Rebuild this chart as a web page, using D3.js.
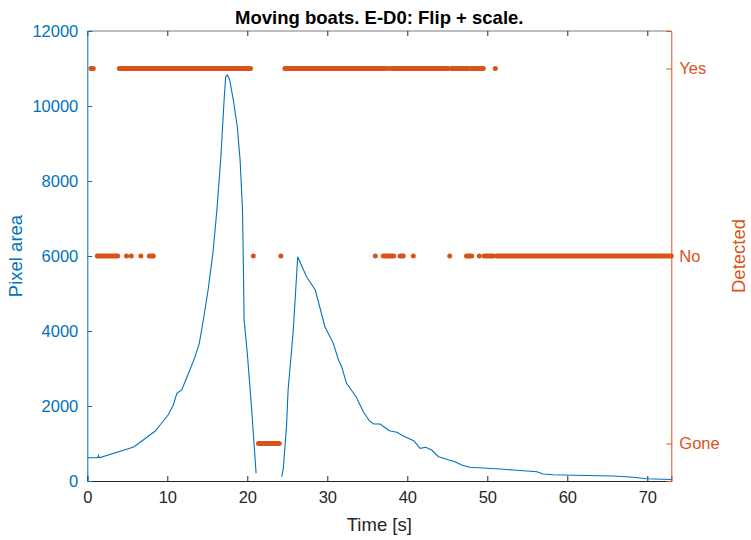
<!DOCTYPE html>
<html>
<head>
<meta charset="utf-8">
<script src="https://cdn.jsdelivr.net/npm/d3@7"></script>
<style>
  body { margin: 0; background: #fff; }
  svg { font-family: "Liberation Sans", Arial, Helvetica, sans-serif; }
</style>
</head>
<body>
<div id="chart"></div>
<script>
// pixel area over time (null = object gone, no value)
const timeSec = [0, 1.3, 1.4, 1.5, 5.8, 8.5, 9.1, 10.1, 10.75, 11.2, 11.8, 12.4, 13.4, 14.0, 14.5, 15.1,
  15.7, 16.2, 16.7, 17.1, 17.3, 17.5, 17.8, 18.25, 18.75, 19.1, 19.4, 19.5, 19.6, 20.0, 20.55, 21.1,
  22.7, 24.3, 24.5, 24.9, 25.1, 25.75, 26.3, 27.4, 28.5, 29.7, 30.75, 31.4, 31.8, 32.4, 33.6, 34.5,
  35.25, 35.8, 36.6, 37.75, 38.7, 39.5, 40.8, 41.6, 42.3, 43.05, 43.9, 44.9, 45.95, 46.8, 47.8, 49.5,
  51.6, 53.25, 56.2, 57.0, 58.25, 60.75, 65.75, 68.25, 69.9, 72.0, 73];
const pixelArea = [620, 620, 680, 620, 907, 1333, 1493, 1760, 2027, 2339, 2427, 2738, 3271, 3671, 4293, 5093,
  6072, 7227, 8648, 10160, 10781, 10827, 10693, 10160, 9448, 8560, 7227, 5893, 4293, 3405, 1893, 205,
  null, 115, 338, 1448, 2427, 4027, 5981, 5448, 5093, 4115, 3671, 3227, 3049, 2605, 2248, 1848,
  1608, 1520, 1520, 1341, 1298, 1200, 1075, 872, 898, 827, 648, 578, 515, 427, 365, 347,
  320, 293, 248, 187, 168, 152, 133, 98, 61, 45, 40];

// detection state runs: [start, end] in seconds
const yesRuns = [[0.45, 0.75], [4.0, 20.4], [24.7, 37.3], [37.65, 37.65], [38.0, 45.1], [45.5, 47.6],
  [47.95, 48.6], [48.9, 49.5], [51.0, 51.0]];
const noRuns = [[1.25, 3.8], [4.9, 4.9], [5.5, 5.5], [6.7, 6.7], [7.75, 8.25], [20.75, 20.75], [24.2, 24.2],
  [36.0, 36.0], [37.0, 38.3], [39.1, 39.5], [40.75, 40.75], [45.3, 45.3], [47.4, 48.05], [49.0, 49.0],
  [49.6, 50.8], [51.2, 73]];
const goneRuns = [[21.4, 24.0]];

const stateNames = ['Gone', 'No', 'Yes'];
const xTicks = [0, 10, 20, 30, 40, 50, 60, 70];
const yTicks = [0, 2000, 4000, 6000, 8000, 10000, 12000];

const width = 751, height = 540;
const margin = { top: 31, right: 79.7, bottom: 59, left: 87.3 };
const blue = '#0072BD', orange = '#D95319', dark = '#262626';

const svg = d3.select('#chart').append('svg')
  .attr('width', width)
  .attr('height', height);

const x = d3.scaleLinear().domain([0, 73]).range([margin.left, width - margin.right]);
const y = d3.scaleLinear().domain([0, 12000]).range([height - margin.bottom, margin.top]);
const y2 = d3.scaleLinear().domain([-0.2, 2.2]).range([height - margin.bottom, margin.top]);

// top border
svg.append('line')
  .attr('x1', x(0)).attr('x2', x(73))
  .attr('y1', margin.top).attr('y2', margin.top)
  .attr('stroke', dark).attr('stroke-opacity', 0.6).attr('stroke-width', 1);

// top ticks (inward)
svg.append('g')
  .attr('transform', `translate(0,${margin.top})`)
  .call(d3.axisTop(x).tickValues(xTicks).tickSize(-5).tickFormat(''))
  .call(g => g.select('.domain').remove())
  .call(g => g.selectAll('line').attr('stroke', dark));

// bottom axis
svg.append('g')
  .attr('transform', `translate(0,${height - margin.bottom})`)
  .call(d3.axisBottom(x).tickValues(xTicks).tickSize(-5).tickPadding(10))
  .call(g => g.select('.domain').attr('stroke', dark))
  .call(g => g.selectAll('line').attr('stroke', dark))
  .call(g => g.selectAll('text').attr('fill', dark).attr('font-size', 16.5).attr('font-family', null));

// left axis
svg.append('g')
  .attr('transform', `translate(${margin.left},0)`)
  .call(d3.axisLeft(y).tickValues(yTicks).tickSize(-5).tickPadding(9).tickFormat(d3.format('d')))
  .call(g => g.select('.domain').attr('stroke', blue))
  .call(g => g.selectAll('line').attr('stroke', blue))
  .call(g => g.selectAll('text').attr('fill', blue).attr('font-size', 16.5).attr('font-family', null));

// right axis
svg.append('g')
  .attr('transform', `translate(${width - margin.right},0)`)
  .call(d3.axisRight(y2).tickValues([0, 1, 2]).tickSize(-5).tickPadding(8).tickFormat(d => stateNames[d]))
  .call(g => g.select('.domain').attr('stroke', orange))
  .call(g => g.selectAll('line').attr('stroke', orange))
  .call(g => g.selectAll('text').attr('fill', orange).attr('font-size', 16.5).attr('font-family', null));

// pixel area line
const line = d3.line()
  .defined(d => d[1] !== null)
  .x(d => x(d[0]))
  .y(d => y(d[1]));

svg.append('path')
  .datum(timeSec.map((t, i) => [t, pixelArea[i]]))
  .attr('fill', 'none')
  .attr('stroke', blue)
  .attr('stroke-width', 1.1)
  .attr('d', line);

// detection markers, drawn as runs of dots
const runs = [].concat(
  yesRuns.map(r => ({ r, s: 2 })),
  noRuns.map(r => ({ r, s: 1 })),
  goneRuns.map(r => ({ r, s: 0 }))
);

svg.append('g').selectAll('line')
  .data(runs)
  .enter().append('line')
  .attr('x1', d => x(d.r[0]))
  .attr('x2', d => x(d.r[1]))
  .attr('y1', d => y2(d.s))
  .attr('y2', d => y2(d.s))
  .attr('stroke', orange)
  .attr('stroke-width', 5)
  .attr('stroke-linecap', 'round');

// title & labels
svg.append('text')
  .attr('x', (x(0) + x(73)) / 2)
  .attr('y', 24)
  .attr('text-anchor', 'middle')
  .attr('font-weight', 'bold')
  .attr('font-size', 18.5)
  .attr('fill', '#000')
  .text('Moving boats. E-D0: Flip + scale.');

svg.append('text')
  .attr('x', (x(0) + x(73)) / 2)
  .attr('y', 531)
  .attr('text-anchor', 'middle')
  .attr('font-size', 18.5)
  .attr('fill', dark)
  .text('Time [s]');

svg.append('text')
  .attr('transform', `translate(22,${(margin.top + height - margin.bottom) / 2}) rotate(-90)`)
  .attr('text-anchor', 'middle')
  .attr('font-size', 18.5)
  .attr('fill', blue)
  .text('Pixel area');

svg.append('text')
  .attr('transform', `translate(745,${(margin.top + height - margin.bottom) / 2}) rotate(-90)`)
  .attr('text-anchor', 'middle')
  .attr('font-size', 18.5)
  .attr('fill', orange)
  .text('Detected');
</script>
</body>
</html>
